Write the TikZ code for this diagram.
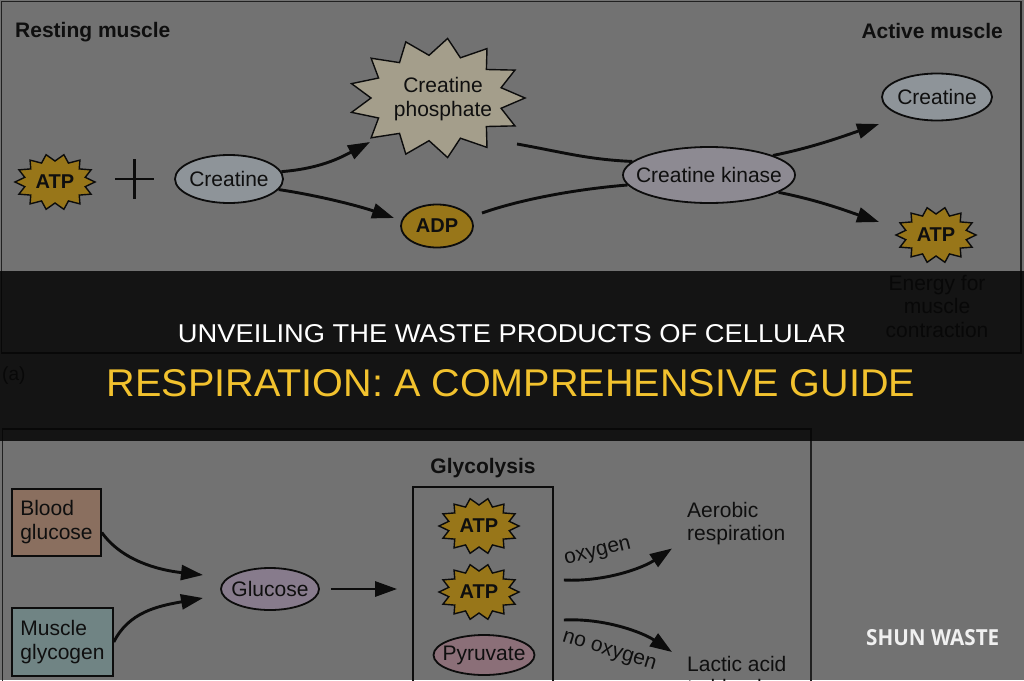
\documentclass[tikz,border=0pt]{standalone}
\usepackage{graphicx}
\usepackage{fontspec}
\setmainfont{Liberation Sans}
\newfontfamily\shunfont{Open Sans}
\newfontfamily\titlefont{Liberation Sans}
\usetikzlibrary{shapes.geometric,arrows.meta,calc}
\definecolor{bgc}{HTML}{727272}
\definecolor{txtc}{HTML}{0F0F0F}
\definecolor{linec}{HTML}{0C0C0C}
\definecolor{framec}{HTML}{202020}
\definecolor{atpc}{HTML}{987619}
\definecolor{cpc}{HTML}{A49E8B}
\definecolor{crc}{HTML}{8E9499}
\definecolor{kinc}{HTML}{8D8A92}
\definecolor{bgluc}{HTML}{8A6F5F}
\definecolor{glyc}{HTML}{708484}
\definecolor{gluc}{HTML}{877B8C}
\definecolor{pyrc}{HTML}{8B6F78}
\definecolor{titley}{HTML}{F2C22E}
\definecolor{shunc}{HTML}{F0F0F0}
\definecolor{bannerc}{HTML}{141414}
\definecolor{underc}{HTML}{080808}
\tikzset{
  lbl/.style={font=\fontsize{21}{23.5}\selectfont, text=txtc, inner sep=0pt},
  boldlbl/.style={font=\bfseries\fontsize{21}{23.5}\selectfont, text=txtc, inner sep=0pt},
  atplbl/.style={font=\bfseries\fontsize{20}{22}\selectfont, text=txtc, inner sep=0pt, ellipse, minimum width=80pt, minimum height=56pt},
  oval/.style={ellipse, draw=linec, line width=1.8pt, inner xsep=-15pt, inner ysep=-6pt, font=\fontsize{21}{23.5}\selectfont, text=txtc},
  bigbox/.style={rectangle, draw=linec, line width=1.6pt, align=left, font=\fontsize{21}{24}\selectfont, text=txtc, inner sep=0pt},
  starline/.style={draw=linec, line width=1.4pt, line join=miter},
  conn/.style={draw=linec, line width=2.9pt, -{Triangle[length=22pt,width=15pt]}},
  plainconn/.style={draw=linec, line width=2.9pt},
  frameline/.style={draw=framec, line width=1.5pt},
  underline/.style={draw=underc, line width=1.5pt},
}
\newcommand{\burst}[7]{\draw[starline, fill=#7, shift={#1}] (0:#2 and #3) \foreach \k in {1,...,#6}{ -- ({(\k-0.5)*360/#6}:#4 and #5) -- ({\k*360/#6}:#2 and #3)} -- cycle;}
\begin{document}
\begin{tikzpicture}[x=1pt,y=-1pt]
\useasboundingbox (0,0) rectangle (1024,680);
\fill[bgc] (0,0) rectangle (1024,680);
\draw[frameline] (1.5,353) -- (1.5,1.5) -- (1021,1.5) -- (1021,353);
\draw[frameline] (2.5,700) -- (2.5,441);
\draw[frameline] (811,441) -- (811,700);
% top part
\node[boldlbl, anchor=west] (rest) at (15,32.5) {Resting muscle};
\node[boldlbl, anchor=east] (act) at (1003,31) {Active muscle};
\burst{(55,182)}{40}{28}{31}{21}{14}{atpc}
\node[atplbl] (atpL) at (55,182) {ATP};
\node[inner sep=0pt, minimum size=39pt] (plus) at (134.5,179) {};
\draw[linec, line width=2.6pt] (plus.west) -- (plus.east) (plus.north) -- (plus.south);
\node[oval, fill=crc, minimum width=108pt, minimum height=48pt] (cl) at (229,179) {Creatine};
\burst{(437,98)}{88}{60}{66}{43}{13}{cpc}
\node[lbl, align=center, ellipse, minimum width=170pt, minimum height=110pt] (cp) at (443,99) {Creatine\\phosphate};
\node[oval, fill=atpc, font=\bfseries\fontsize{20}{22}\selectfont, minimum width=72pt, minimum height=43pt] (adp) at (437,226) {ADP};
\node[oval, fill=kinc, minimum width=172pt, minimum height=56pt] (kin) at (709,175) {Creatine kinase};
\node[oval, fill=crc, minimum width=110pt, minimum height=47pt] (cr) at (937,97) {Creatine};
\burst{(936,235)}{40}{28}{31}{21}{14}{atpc}
\node[atplbl] (atpR) at (936,235) {ATP};
\draw[conn] (cl.8) .. controls +(38,-3) and +(-30,16) .. ($(cp)+(-73,43)$);
\draw[conn] (cl.-12) .. controls +(40,6) and +(-35,-12) .. ($(adp)+(-43,-8)$);
\draw[plainconn] ($(cp)+(74,45)$) .. controls +(45,8) and +(-45,-2) .. (kin.170);
\draw[plainconn] ($(adp)+(45,-13)$) .. controls +(40,-14) and +(-50,4) .. (kin.187);
\draw[conn] (kin.17) .. controls +(40,-8) and +(-35,12) .. ($(cr)+(-58,27)$);
\draw[conn] (kin.-14) .. controls +(40,8) and +(-35,-12) .. ($(atpR)+(-57,-13)$);
% bottom part
\node[bigbox, fill=bgluc, minimum width=89pt, minimum height=67pt] (bglu) at (56.5,522.5) {Blood\\glucose};
\node[bigbox, fill=glyc, minimum width=101pt, minimum height=68pt] (mgly) at (62.5,642) {Muscle\\glycogen};
\node[oval, fill=gluc, minimum width=98pt, minimum height=42pt] (glu) at (270,589) {Glucose};
\node[draw=linec, line width=1.8pt, minimum width=140pt, minimum height=230pt, inner sep=0pt] (glybox) at (483,602) {};
\node[boldlbl] (glyt) at (483,468) {Glycolysis};
\burst{(479,526)}{40}{28}{31}{21}{14}{atpc}
\node[atplbl] (atp1) at (479,526) {ATP};
\burst{(479,592)}{40}{28}{31}{21}{14}{atpc}
\node[atplbl] (atp2) at (479,592) {ATP};
\node[oval, fill=pyrc, minimum width=101pt, minimum height=40pt] (pyr) at (484,655) {Pyruvate};
\node[lbl, align=left, anchor=north west] (aer) at (687,502) {Aerobic\\respiration};
\node[lbl, align=left, anchor=north west] (lac) at (687,656) {Lactic acid\\to blood};
\draw[conn] ($(bglu.east)+(0,10)$) .. controls +(20,28) and +(-45,-5) .. ($(glu)+(-67,-14)$);
\draw[conn] (mgly.east) .. controls +(15,-30) and +(-45,8) .. ($(glu)+(-67,9)$);
\draw[conn, shorten <=11pt, shorten >=15pt] (glu.east) -- (glu.east -| glybox.west);
\draw[conn] ($(glybox.east)+(10,-22)$) .. controls +(40,2) and +(-30,20) .. ($(aer.south west)+(-15,3)$);
\draw[conn] ($(glybox.east)+(10,18)$) .. controls +(40,-2) and +(-30,-20) .. ($(lac.north west)+(-15,-4)$);
\node[lbl, rotate=14] (oxl) at (598,553) {oxygen};
\node[lbl, rotate=-17] (noxl) at (609,652) {no oxygen};
% banner with the dimmed content beneath it
\fill[bannerc] (0,271) rectangle (1024,441);
\draw[underline] (1.5,271) -- (1.5,353) -- (1021,353) -- (1021,271);
\draw[underline] (2.5,441) -- (2.5,429) -- (811,429) -- (811,441);
\node[lbl, text=underc, align=center, anchor=north] (energy) at (937,275) {Energy for\\muscle\\contraction};
\node[lbl, text=underc, anchor=west, font=\fontsize{19}{21}\selectfont] (alab) at (2,376) {(a)};
\node[inner sep=0pt, text=white] (t1) at (512,334) {\resizebox{668pt}{18pt}{\titlefont UNVEILING THE WASTE PRODUCTS OF CELLULAR}};
\node[inner sep=0pt, text=titley] (t2) at (511,383) {\resizebox{808pt}{27pt}{\titlefont RESPIRATION: A COMPREHENSIVE GUIDE}};
\node[inner sep=0pt, text=shunc, anchor=south west] (shun) at (866,646) {\resizebox{133pt}{16pt}{\shunfont\bfseries SHUN WASTE}};
\end{tikzpicture}
\end{document}
